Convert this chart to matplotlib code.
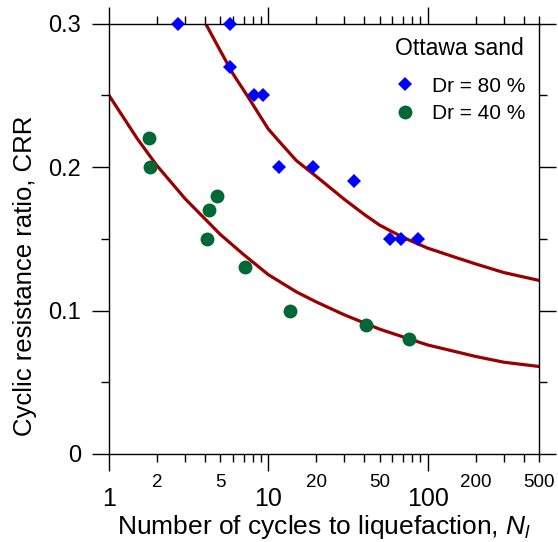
import matplotlib
matplotlib.use("Agg")
import matplotlib.pyplot as plt
from matplotlib.ticker import FixedLocator, FixedFormatter, NullFormatter

plt.rcParams['font.family'] = ['Liberation Sans', 'DejaVu Sans']
plt.rcParams['mathtext.fontset'] = 'custom'
plt.rcParams['mathtext.rm'] = 'Liberation Sans'
plt.rcParams['mathtext.it'] = 'Liberation Sans:italic'

# ---- data ----
n_dr80 = [2.73, 5.71, 5.71, 8.08, 9.28, 11.7, 19.1, 34.7, 57.8, 68.1, 86.8]
crr_dr80 = [0.30, 0.30, 0.27, 0.25, 0.25, 0.20, 0.20, 0.19, 0.15, 0.15, 0.15]

n_dr40 = [1.77, 1.82, 4.10, 4.24, 4.79, 7.14, 13.7, 41.2, 76.2]
crr_dr40 = [0.22, 0.20, 0.15, 0.17, 0.18, 0.13, 0.10, 0.09, 0.08]

# fitted curves
n_fit80 = [4.04, 5, 6, 7.35, 10, 12, 15, 20, 30, 40, 50, 70, 100, 150, 200, 300, 500]
crr_fit80 = [0.300, 0.281, 0.265, 0.250, 0.2265, 0.2165, 0.2045, 0.1935, 0.1775,
             0.167, 0.1595, 0.151, 0.1435, 0.137, 0.1325, 0.1265, 0.121]

n_fit40 = [1, 1.5, 2, 3, 5, 7, 10, 15, 20, 30, 50, 100, 200, 300, 500]
crr_fit40 = [0.250, 0.220, 0.201, 0.178, 0.153, 0.139, 0.125, 0.113, 0.106,
             0.097, 0.087, 0.076, 0.068, 0.064, 0.061]

x_major = [1, 10, 100]
x_major_labels = ['1', '10', '100']
x_minor = [2, 3, 4, 5, 6, 7, 8, 9, 20, 30, 40, 50, 60, 70, 80, 90, 200, 300, 400, 500]
x_minor_labels = ['2', '', '', '5', '', '', '', '', '20', '', '', '50', '', '', '', '',
                  '200', '', '', '500']
y_major = [0, 0.1, 0.2, 0.3]
y_major_labels = ['0', '0.1', '0.2', '0.3']
y_minor = [0.05, 0.15, 0.25]

legend_title = 'Ottawa sand'
label80 = 'Dr = 80 %'
label40 = 'Dr = 40 %'

# ---- figure ----
fig = plt.figure(figsize=(5.58, 5.42), dpi=100)
ax = fig.add_axes([109/558, 1 - 454/542, (539-109)/558, (454-23.6)/542])

line_col = '#9b0000'
ax.plot(n_fit80, crr_fit80, color=line_col, lw=2.3, zorder=2, clip_on=True)
ax.plot(n_fit40, crr_fit40, color=line_col, lw=2.3, zorder=2, clip_on=True)

ax.plot(n_dr80, crr_dr80, linestyle='none', marker='D', markersize=7.6,
        color='#0000ff', markeredgewidth=0, label=label80, zorder=3, clip_on=False)
ax.plot(n_dr40, crr_dr40, linestyle='none', marker='o', markersize=10,
        color='#006837', markeredgewidth=0, label=label40, zorder=3, clip_on=False)

ax.set_xscale('log')
ax.set_xlim(1, 500)
ax.set_ylim(0, 0.3)

ax.xaxis.set_major_locator(FixedLocator(x_major))
ax.xaxis.set_major_formatter(FixedFormatter(x_major_labels))
ax.xaxis.set_minor_locator(FixedLocator(x_minor))
ax.xaxis.set_minor_formatter(FixedFormatter(x_minor_labels))
ax.yaxis.set_major_locator(FixedLocator(y_major))
ax.yaxis.set_major_formatter(FixedFormatter(y_major_labels))
ax.yaxis.set_minor_locator(FixedLocator(y_minor))
ax.yaxis.set_minor_formatter(NullFormatter())

for s in ax.spines.values():
    s.set_linewidth(1.0)

ax.tick_params(which='both', direction='out', top=True, right=True,
               width=1.0, color='black')
ax.tick_params(which='major', length=12)
ax.tick_params(which='minor', length=6)
ax.tick_params(axis='x', which='major', labelsize=18, pad=12)
ax.tick_params(axis='x', which='minor', labelsize=13.5, pad=8.5)
ax.tick_params(axis='y', which='major', labelsize=17, pad=8)

ax.set_xlabel('Number of cycles to liquefaction, $N_l$', fontsize=19, labelpad=1)
ax.set_ylabel('Cyclic resistance ratio, CRR', fontsize=18.5)
ax.yaxis.set_label_coords(-0.168, 0.415)

leg = ax.legend(title=legend_title, loc='upper right', frameon=False,
                bbox_to_anchor=(525/558, 1 - 37/542), bbox_transform=fig.transFigure,
                borderpad=0, borderaxespad=0, fontsize=15, title_fontsize=16.5,
                numpoints=1, handlelength=1.0, handletextpad=0.8, labelspacing=0.4)
leg._legend_box.sep = 12

fig.savefig('out.png', dpi=100)
